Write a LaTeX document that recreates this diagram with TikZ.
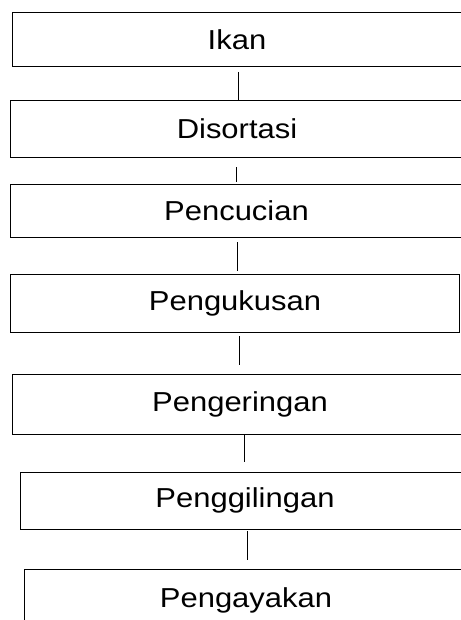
\documentclass[tikz,border=0pt]{standalone}
\usepackage{fontspec}
\setmainfont{Liberation Sans}
\usetikzlibrary{calc}
\newcommand\wtxt[1]{\scalebox{1.13}[1]{#1}}
\begin{document}
\begin{tikzpicture}[x=1bp,y=-1bp,
  stepbox/.style={draw=black,line width=1bp,rectangle,inner sep=0pt,outer sep=0pt,
    font=\fontsize{27.5}{31}\selectfont},
  conn/.style={draw=black,line width=1bp}]
\useasboundingbox[fill=white] (0,0) rectangle (461,620);
\node[stepbox,minimum width=448bp,minimum height=54bp] (b1) at (237,40) {\wtxt{Ikan}};
\node[stepbox,minimum width=452bp,minimum height=56bp] (b2) at (237,129) {\wtxt{Disortasi}};
\node[stepbox,minimum width=451bp,minimum height=52bp] (b3) at (236.5,211) {\wtxt{Pencucian}};
\node[stepbox,minimum width=448bp,minimum height=58bp] (b4) at (235,303) {\wtxt{Pengukusan}};
\node[stepbox,minimum width=454bp,minimum height=60bp] (b5) at (240,404) {\wtxt{Pengeringan}};
\node[stepbox,minimum width=448bp,minimum height=57bp] (b6) at (245,500.5) {\wtxt{Penggilingan}};
\node[stepbox,minimum width=442bp,minimum height=62bp] (b7) at (246,600) {\wtxt{Pengayakan}};
\draw[conn] ($(b1.south)+(1,5)$) -- ($(b1.south |- b2.north)+(1,0)$);
\draw[conn] ($(b2.south)+(-1,10)$) -- ($(b2.south |- b3.north)+(-1,-3)$);
\draw[conn] ($(b3.south)+(0.5,5)$) -- ($(b3.south |- b4.north)+(0.5,-3)$);
\draw[conn] ($(b4.south)+(4,4)$) -- ($(b4.south |- b5.north)+(4,-9)$);
\draw[conn] ($(b5.south)+(4,0)$) -- ($(b5.south |- b6.north)+(4,-10)$);
\draw[conn] ($(b6.south)+(2,2)$) -- ($(b6.south |- b7.north)+(2,-9)$);
\end{tikzpicture}
\end{document}
